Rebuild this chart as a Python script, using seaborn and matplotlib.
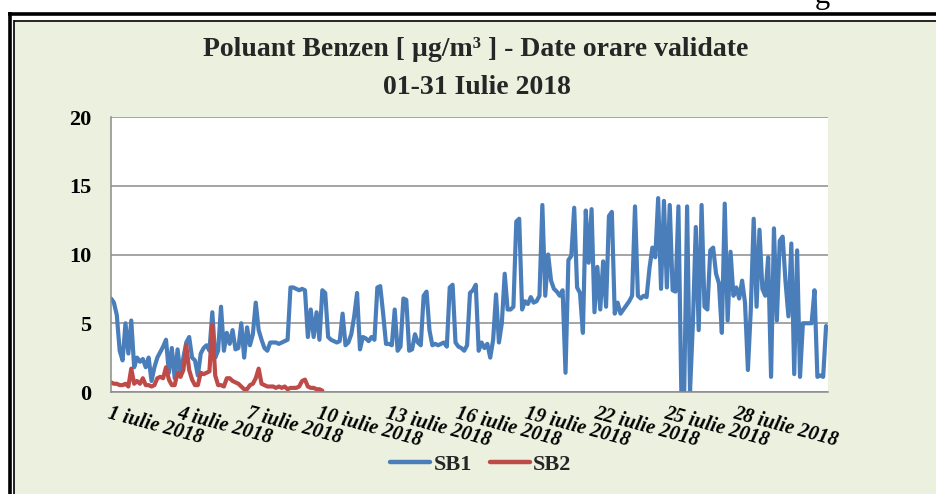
import numpy as np
import pandas as pd
import seaborn as sns
import matplotlib
matplotlib.use("Agg")
import matplotlib.pyplot as plt
from matplotlib.lines import Line2D
from matplotlib.patches import Rectangle

sns.set_theme(style="white")
plt.rcParams['font.family'] = ['Liberation Serif', 'DejaVu Serif']

# ---------------- data (3-hour resolution) ----------------
step_hours = 3
sb1 = [
    6.8, 6.5, 5.6, 3.0, 2.3, 5.0, 2.8, 5.2,      # 1
    1.8, 2.5, 2.2, 2.4, 1.8, 2.5, 0.8, 1.8,      # 2
    2.5, 2.9, 3.3, 3.8, 1.4, 3.2, 1.0, 3.1,      # 3
    1.2, 2.5, 3.6, 4.0, 2.5, 2.3, 1.2, 2.8,      # 4
    3.2, 3.4, 3.0, 5.8, 2.5, 3.0, 6.2, 3.0,      # 5
    4.3, 3.5, 4.5, 3.1, 3.2, 5.0, 2.5, 4.7,      # 6
    3.4, 4.2, 6.5, 4.5, 3.8, 3.2, 3.0, 3.6,      # 7
    3.6, 3.6, 3.5, 3.6, 3.7, 3.8, 7.6, 7.6,      # 8
    7.5, 7.4, 7.5, 7.4, 4.0, 6.0, 4.0, 5.8,      # 9
    3.8, 7.4, 7.2, 4.0, 3.8, 3.7, 3.6, 3.7,      # 10
    5.7, 3.4, 3.6, 4.2, 5.5, 7.2, 3.1, 4.0,      # 11
    3.9, 3.7, 4.0, 3.8, 7.6, 7.7, 5.7, 3.5,      # 12
    3.5, 3.4, 6.0, 3.0, 3.3, 6.8, 6.7, 3.0,      # 13
    3.1, 4.2, 3.6, 3.4, 7.0, 7.3, 4.5, 3.4,      # 14
    3.5, 3.4, 3.5, 3.6, 3.3, 7.6, 7.8, 3.6,      # 15
    3.3, 3.2, 3.0, 3.4, 7.2, 7.4, 7.8, 3.0,      # 16
    3.6, 3.2, 3.5, 2.5, 3.8, 7.1, 3.6, 5.0,      # 17
    8.6, 6.0, 6.0, 6.2, 12.4, 12.6, 6.0, 6.6,    # 18
    6.4, 6.9, 6.5, 6.6, 7.0, 13.6, 7.0, 10.0,    # 19
    8.1, 7.5, 7.3, 7.0, 7.4, 1.4, 9.6, 9.9,      # 20
    13.4, 7.6, 7.2, 4.3, 13.2, 9.4, 13.3, 5.8,   # 21
    9.1, 6.0, 9.5, 6.2, 12.8, 13.1, 5.7, 6.5,    # 22
    5.7, 6.0, 6.3, 6.6, 7.0, 13.5, 7.0, 6.8,     # 23
    7.0, 6.9, 9.0, 10.5, 9.8, 14.1, 7.5, 13.9,   # 24
    7.6, 13.6, 7.4, 7.3, 13.5, 0.0, 0.0, 13.5,   # 25
    0.0, 5.0, 12.0, 4.5, 13.6, 6.2, 6.0, 10.3,   # 26
    10.5, 8.6, 7.9, 4.3, 13.7, 5.2, 10.2, 7.0,   # 27
    7.6, 6.8, 8.1, 6.5, 1.6, 6.0, 12.6, 6.2,     # 28
    11.8, 7.5, 7.0, 9.8, 1.1, 11.9, 5.2, 11.0,   # 29
    11.3, 8.0, 5.5, 10.8, 1.3, 10.3, 1.1, 5.0,   # 30
    5.0, 5.0, 5.0, 7.4, 1.1, 1.2, 1.1, 4.8,      # 31
]
sb2 = [
    0.7, 0.6, 0.6, 0.5, 0.5, 0.6, 0.4, 1.7,      # 1
    0.6, 0.8, 0.6, 1.0, 0.5, 0.5, 0.4, 0.5,      # 2
    1.0, 1.1, 1.0, 1.8, 0.9, 0.5, 0.5, 1.4,      # 3
    1.1, 1.6, 3.4, 1.6, 0.9, 0.5, 0.5, 1.4,      # 4
    1.3, 1.4, 1.5, 4.9, 1.2, 0.5, 0.5, 0.4,      # 5
    1.0, 1.0, 0.8, 0.7, 0.6, 0.4, 0.2, 0.2,      # 6
    0.5, 0.6, 1.0, 1.7, 0.6, 0.5, 0.4, 0.4,      # 7
    0.4, 0.3, 0.4, 0.3, 0.4, 0.2, 0.3, 0.3,      # 8
    0.3, 0.4, 0.8, 0.9, 0.4, 0.3, 0.3, 0.2,      # 9
    0.2, 0.1,                                    # 10
]
series_names = ["SB1", "SB2"]
series_colors = ["#4A7EBB", "#BE4B48"]
tick_hours = [0, 72, 144, 216, 288, 360, 432, 504, 576, 648]
tick_labels = ["1 iulie 2018", "4 iulie 2018", "7 iulie 2018", "10 iulie 2018",
               "13 iulie 2018", "16 iulie 2018", "19 iulie 2018", "22 iulie 2018",
               "25 iulie 2018", "28 iulie 2018"]
y_ticks = [0, 5, 10, 15, 20]
title_1 = "Poluant Benzen [ µg/m³ ] - Date orare validate"
title_2 = "01-31 Iulie 2018"

df = pd.concat([
    pd.DataFrame({"hour": np.arange(len(sb1)) * step_hours, "value": sb1, "series": "SB1"}),
    pd.DataFrame({"hour": np.arange(len(sb2)) * step_hours, "value": sb2, "series": "SB2"}),
], ignore_index=True)

# ---------------- figure ----------------
W, H = 936, 494
fig = plt.figure(figsize=(W / 100, H / 100), dpi=100)
fig.patch.set_facecolor("white")

bg = fig.add_axes([0, 0, 1, 1], zorder=0)
bg.set_xlim(0, W)
bg.set_ylim(H, 0)
bg.axis("off")
bg.add_patch(Rectangle((14, 22), W, H, facecolor="#EBF1DE", edgecolor="none"))
# double border (outer thick, inner thin)
bg.plot([9.5, 9.5], [12, H + 5], color="black", lw=2.6, solid_capstyle="butt")
bg.plot([8, W + 5], [14.5, 14.5], color="black", lw=2.6, solid_capstyle="butt")
bg.plot([14, 14], [20, H + 5], color="black", lw=1.2, solid_capstyle="butt")
bg.plot([13.5, W + 5], [21, 21], color="black", lw=1.2, solid_capstyle="butt")
# partial glyph of the page text above the chart (cut off, as in the source)
bg.text(822, 3, "g", ha="center", va="baseline", fontsize=22, color="black")

ax = fig.add_axes([111 / W, 1 - 392 / H, 717 / W, 275 / H], zorder=1)
ax.set_facecolor("white")

sns.lineplot(data=df, x="hour", y="value", hue="series",
             palette=dict(zip(series_names, series_colors)),
             estimator=None, linewidth=3.0, ax=ax, legend=False)

ax.set_xlim(0, 743)
ax.set_ylim(0, 20)
ax.set_yticks(y_ticks)
ax.set_yticklabels([str(v) for v in y_ticks], fontsize=16, fontweight="bold")
ax.set_xticks(tick_hours)
ax.set_xticklabels(tick_labels, rotation=-15, ha="left", va="top",
                   rotation_mode="anchor", fontsize=14.5, fontweight="bold",
                   fontstyle="italic")
ax.tick_params(axis="x", length=0, pad=8, colors="black")
ax.tick_params(axis="y", length=0, pad=14, colors="black")
ax.set_xlabel("")
ax.set_ylabel("")
ax.grid(axis="y", color="#8C8C8C", linewidth=1.1)
ax.grid(axis="x", visible=False)
for s in ["top", "right"]:
    ax.spines[s].set_visible(False)
for s in ["left", "bottom"]:
    ax.spines[s].set_color("#8C8C8C")
    ax.spines[s].set_linewidth(1.1)

fig.text(476 / W, 1 - 49 / H, title_1, ha="center", va="center",
         fontsize=20, fontweight="bold")
fig.text(477 / W, 1 - 87 / H, title_2, ha="center", va="center",
         fontsize=20, fontweight="bold")

handles = [Line2D([], [], color=c, lw=3.2) for c in series_colors]
fig.legend(handles, series_names, loc="center",
           bbox_to_anchor=(481 / W, 1 - 465 / H), ncol=2, frameon=False,
           prop={"weight": "bold", "size": 16}, handlelength=1.8,
           handletextpad=0.15, columnspacing=0.8)

fig.savefig("out.png", dpi=100, facecolor=fig.get_facecolor())
